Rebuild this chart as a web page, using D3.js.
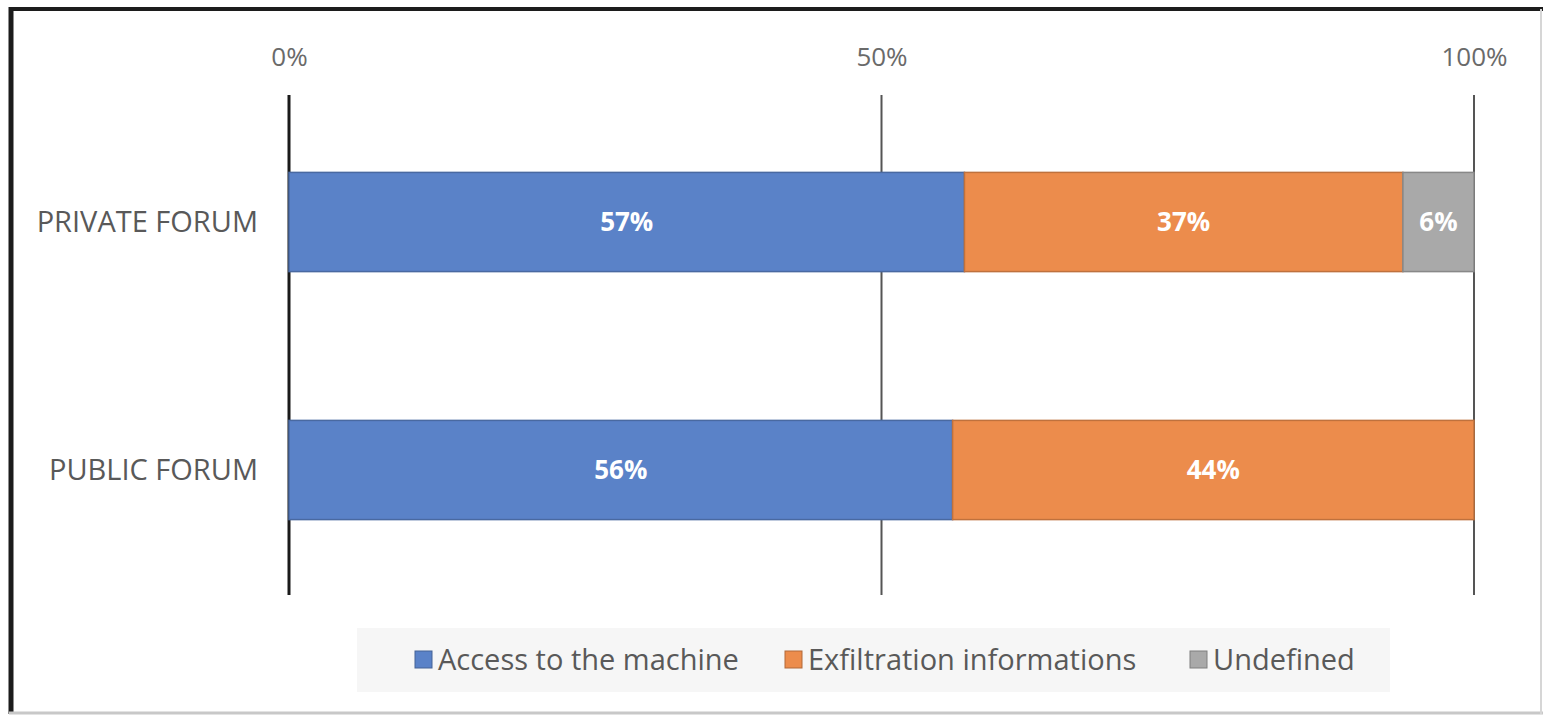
<!DOCTYPE html>
<html><head><meta charset="utf-8">
<script src="https://cdn.jsdelivr.net/npm/d3@7"></script>
<style>body{margin:0;background:#fff}svg{display:block}</style>
</head><body><svg id="c" width="1543" height="716"></svg>
<script>
const categories = ["PRIVATE FORUM", "PUBLIC FORUM"];
const seriesNames = ["Access to the machine", "Exfiltration informations", "Undefined"];
const accessValues = [57, 56];
const exfiltrationValues = [37, 44];
const undefinedValues = [6, 0];
const tickValues = [0, 50, 100];
const colors = ["#5a82c8", "#ec8c4c", "#a9a9a9"];

const svg = d3.select("#c");
const font = "'Open Sans', Lato, sans-serif";

// frame
svg.append("line").attr("x1",9).attr("x2",1543).attr("y1",9).attr("y2",9).attr("stroke","#1c1c1c").attr("stroke-width",4);
svg.append("line").attr("x1",11).attr("x2",11).attr("y1",7).attr("y2",714).attr("stroke","#1c1c1c").attr("stroke-width",5);
svg.append("line").attr("x1",9).attr("x2",1543).attr("y1",713).attr("y2",713).attr("stroke","#c8c8c8").attr("stroke-width",3);
svg.append("line").attr("x1",1541).attr("x2",1541).attr("y1",9).attr("y2",714).attr("stroke","#d6d6d6").attr("stroke-width",2);

const x = d3.scaleLinear().domain([0,100]).range([289,1474]);
const y = d3.scaleBand().domain(categories).range([98,594]).paddingInner(0.6).paddingOuter(0.3);

// gridlines
svg.append("g").selectAll("line").data(tickValues).join("line")
  .attr("x1",d=>x(d)).attr("x2",d=>x(d)).attr("y1",95).attr("y2",595)
  .attr("stroke",d=>d===0?"#1a1a1a":"#555").attr("stroke-width",d=>d===0?3:2);

// top axis labels
const ax = d3.axisTop(x).tickValues(tickValues).tickFormat(d=>d+"%").tickSize(0).tickPadding(0);
const axg = svg.append("g").attr("transform","translate(0,57)").call(ax);
axg.select(".domain").remove();
axg.selectAll("text").attr("font-family",font).attr("font-size",26).attr("fill","#6a6a6a").attr("dy","0.35em");

// category labels
const yAx = d3.axisLeft(y).tickSize(0).tickPadding(0);
const yg = svg.append("g").attr("transform","translate(258,0)").call(yAx);
yg.select(".domain").remove();
yg.selectAll("text").attr("font-family",font).attr("font-size",29).attr("fill","#595959").attr("dy","0.35em");

// stacked data
const rows = categories.map((c,i)=>({cat:c, s0:accessValues[i], s1:exfiltrationValues[i], s2:undefinedValues[i]}));
const stack = d3.stack().keys(["s0","s1","s2"])(rows);

stack.forEach((layer,li)=>{
  const g = svg.append("g");
  g.selectAll("rect").data(layer.filter(d=>d[1]-d[0]>0)).join("rect")
    .attr("x",d=>x(d[0])).attr("width",d=>x(d[1])-x(d[0]))
    .attr("y",d=>y(d.data.cat)).attr("height",y.bandwidth())
    .attr("fill",colors[li]).attr("stroke",d3.color(colors[li]).darker(0.6)).attr("stroke-width",1.5);
  g.selectAll("text").data(layer.filter(d=>d[1]-d[0]>0)).join("text")
    .attr("x",d=>(x(d[0])+x(d[1]))/2).attr("y",d=>y(d.data.cat)+y.bandwidth()/2)
    .attr("dy","0.35em").attr("text-anchor","middle")
    .attr("font-family",font).attr("font-weight","bold").attr("font-size",26).attr("fill","#fff")
    .text(d=>(d[1]-d[0])+"%");
});

// legend
svg.append("rect").attr("x",357).attr("y",628).attr("width",1033).attr("height",64).attr("fill","#f6f6f6");
const legX = [415, 785, 1190];
const lg = svg.append("g");
seriesNames.forEach((n,i)=>{
  lg.append("rect").attr("x",legX[i]).attr("y",651).attr("width",17).attr("height",17).attr("fill",colors[i]).attr("stroke",d3.color(colors[i]).darker(0.8)).attr("stroke-width",1);
  lg.append("text").attr("x",legX[i]+23).attr("y",660).attr("dy","0.35em")
    .attr("font-family",font).attr("font-size",29).attr("fill","#595959").text(n);
});
</script></body></html>
